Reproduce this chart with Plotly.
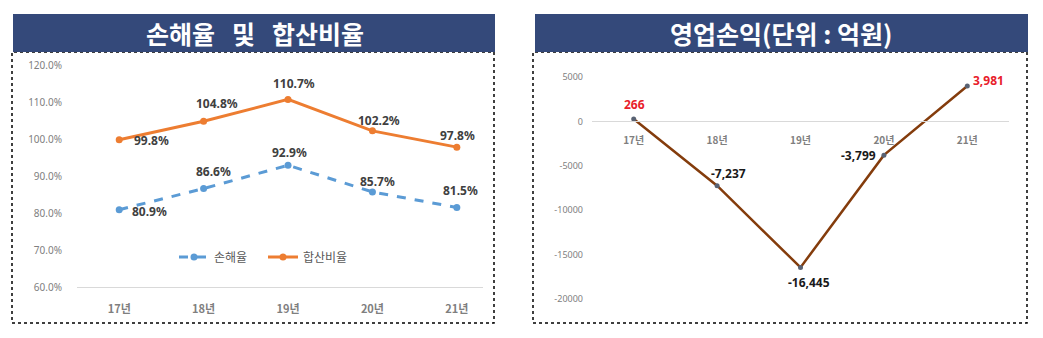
import plotly.graph_objects as go

# ---- data ----
categories = ["17년", "18년", "19년", "20년", "21년"]
loss_ratio = [80.9, 86.6, 92.9, 85.7, 81.5]          # 손해율
combined_ratio = [99.8, 104.8, 110.7, 102.2, 97.8]   # 합산비율
op_profit = [266, -7237, -16445, -3799, 3981]         # 영업손익 (억원)
op_labels = ["266", "-7,237", "-16,445", "-3,799", "3,981"]
left_yticks = [60, 70, 80, 90, 100, 110, 120]
right_yticks = [5000, 0, -5000, -10000, -15000, -20000]
right_yticktext = ["5000", "0", "-5000", "-10000", "-15000", "-20000"]

W, H = 1043, 338
def px(x): return x / W
def py(y): return 1 - y / H

FONT = "Noto Sans, Noto Sans CJK KR, sans-serif"
KFONT = "Noto Sans CJK KR, Noto Sans, sans-serif"
NAVY = "#34497A"
ORANGE = "#ED7D31"
BLUE = "#5B9BD5"
BROWN = "#843C0C"
LABEL = "#404040"
TICK = "#808080"

xi = list(range(len(categories)))

fig = go.Figure()

fig.add_trace(go.Scatter(
    x=xi, y=loss_ratio, name="손해율", mode="lines+markers",
    line=dict(color=BLUE, width=3, dash="dash"),
    marker=dict(size=7, color=BLUE), xaxis="x", yaxis="y"))
fig.add_trace(go.Scatter(
    x=xi, y=combined_ratio, name="합산비율", mode="lines+markers",
    line=dict(color=ORANGE, width=3),
    marker=dict(size=7, color=ORANGE), xaxis="x", yaxis="y"))
fig.add_trace(go.Scatter(
    x=xi, y=op_profit, name="영업손익", mode="lines+markers", showlegend=False,
    line=dict(color=BROWN, width=2.5),
    marker=dict(size=5, color="#596273"), xaxis="x2", yaxis="y2"))

annotations = []
# combined ratio labels
cshift = [(32, -1), (13, 18), (6, 16), (7, 10), (1, 12)]
for i, v in enumerate(combined_ratio):
    annotations.append(dict(x=i, y=v, xref="x", yref="y", text=f"{v:.1f}%",
                            showarrow=False, xshift=cshift[i][0], yshift=cshift[i][1],
                            font=dict(family=FONT, size=12, color=LABEL, weight="bold")))
lshift = [(30, -2), (10, 17), (1, 13), (5, 10), (4, 17)]
for i, v in enumerate(loss_ratio):
    annotations.append(dict(x=i, y=v, xref="x", yref="y", text=f"{v:.1f}%",
                            showarrow=False, xshift=lshift[i][0], yshift=lshift[i][1],
                            font=dict(family=FONT, size=12, color=LABEL, weight="bold")))
oshift = [(1, 15), (11, 12), (8, -15), (-25, 0), (21, 6)]
for i, v in enumerate(op_profit):
    col = "#E8202A" if v > 0 else "#1a1a1a"
    annotations.append(dict(x=i, y=v, xref="x2", yref="y2", text=op_labels[i],
                            showarrow=False, xshift=oshift[i][0], yshift=oshift[i][1],
                            font=dict(family=FONT, size=12, color=col, weight="bold")))
# titles
annotations.append(dict(x=px(255), y=py(33), xref="paper", yref="paper", text="손해율   및   합산비율",
                        xanchor="center", yanchor="middle",
                        showarrow=False, font=dict(family=KFONT, size=25, color="white", weight="bold")))
annotations.append(dict(x=px(781), y=py(33), xref="paper", yref="paper", text="영업손익(단위 : 억원)",
                        xanchor="center", yanchor="middle",
                        showarrow=False, font=dict(family=KFONT, size=25, color="white", weight="bold")))

shapes = [
    dict(type="rect", xref="paper", yref="paper", x0=px(12), x1=px(494), y0=py(323), y1=py(52),
         line=dict(color="black", width=1.5, dash="dot"), layer="below"),
    dict(type="rect", xref="paper", yref="paper", x0=px(533), x1=px(1027), y0=py(323), y1=py(52),
         line=dict(color="black", width=1.5, dash="dot"), layer="below"),
    dict(type="rect", xref="paper", yref="paper", x0=px(13), x1=px(495), y0=py(52), y1=py(14),
         fillcolor=NAVY, line=dict(width=0), layer="below"),
    dict(type="rect", xref="paper", yref="paper", x0=px(535), x1=px(1028), y0=py(52), y1=py(14),
         fillcolor=NAVY, line=dict(width=0), layer="below"),
]

fig.update_layout(
    template="none",
    width=W, height=H, margin=dict(l=0, r=0, t=0, b=0, pad=0, autoexpand=False),
    paper_bgcolor="white", plot_bgcolor="rgba(0,0,0,0)",
    font=dict(family=FONT),
    annotations=annotations, shapes=shapes,
    legend=dict(orientation="h", x=px(174), y=py(257), xanchor="left", yanchor="middle",
                font=dict(family=KFONT, size=12, color="#595959"), bgcolor="rgba(0,0,0,0)",
                itemwidth=30, entrywidth=44, entrywidthmode="pixels"),
    xaxis=dict(domain=[px(77), px(483)], range=[-0.5, 4.31], tickvals=xi, ticktext=categories,
               showgrid=False, zeroline=False, showline=True, linecolor="#D9D9D9", linewidth=1,
               ticks="", ticklabelstandoff=12, anchor="y", automargin=False,
               tickfont=dict(family=KFONT, size=11, color="#7F7F7F", weight="bold")),
    yaxis=dict(domain=[py(287), py(65)], range=[60, 120], tickvals=left_yticks,
               ticktext=[f"{v:.1f}%" for v in left_yticks], automargin=False,
               showgrid=False, zeroline=False, showline=False, ticks="", ticklabelstandoff=14,
               anchor="x", tickfont=dict(family=FONT, size=10, color=TICK)),
    xaxis2=dict(domain=[px(592), px(1009)], range=[-0.5, 4.5], tickvals=xi, ticktext=categories,
                showgrid=False, zeroline=False, showline=True, linecolor="#D9D9D9", linewidth=1,
                ticks="", anchor="free", position=py(121), ticklabelstandoff=10, automargin=False,
                tickfont=dict(family=KFONT, size=10, color="#7F7F7F", weight="bold")),
    yaxis2=dict(domain=[py(299), py(77)], range=[-20000, 5000], tickvals=right_yticks,
                ticktext=right_yticktext, showgrid=False, zeroline=False, showline=False,
                ticks="", ticklabelstandoff=8, anchor="x2", automargin=False,
                tickfont=dict(family=FONT, size=9, color=TICK)),
)

fig.write_html("out.html")
